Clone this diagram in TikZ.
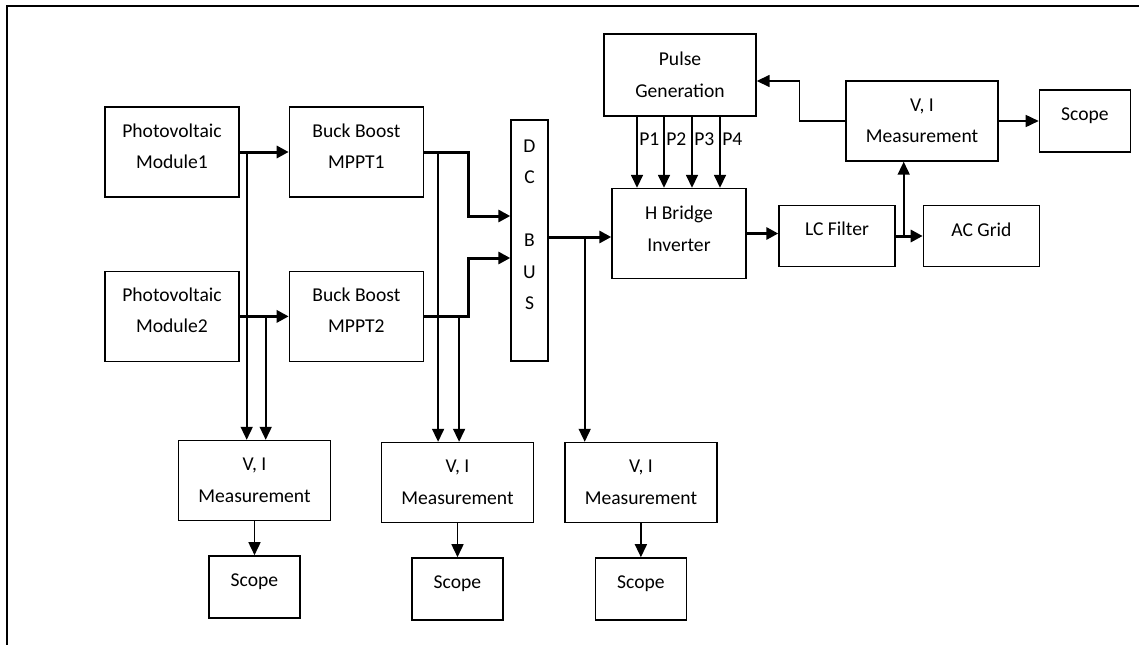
\documentclass[tikz,border=0pt]{standalone}
\usepackage{fontspec}
\setmainfont{Carlito}
\usetikzlibrary{arrows.meta,positioning}

\begin{document}
\begin{tikzpicture}[x=1pt,y=-1pt,
    node distance=34pt,
    blk/.style={rectangle,draw,line width=1.4pt,inner sep=2pt,align=center,
                font=\fontsize{19.6}{31.5}\selectfont},
    lift/.style={text depth=12pt},
    big/.style={minimum width=134pt,minimum height=90pt,lift},
    meas/.style={minimum width=152pt,minimum height=80pt},
    scope/.style={minimum width=91pt,minimum height=62pt,text depth=14pt},
    pw/.style={-{Triangle[length=12pt,width=12pt]},line width=3pt},
    sig/.style={-{Triangle[length=13pt,width=12pt]},line width=1.6pt},
    tag/.style={anchor=west,inner sep=1.5pt,font=\fontsize{19.6}{24}\selectfont}]
    \useasboundingbox (0,0) rectangle (1139,645);
    \draw[line width=2pt] (1139,6) -- (7,6) -- (7,645);
    % sources and converters
    \node[blk,big](pv1) at (172,152) {Photovoltaic\\Module1};
    \node[blk,big,right=49pt of pv1](bb1){Buck Boost\\MPPT1};
    \node[blk,big,below=73pt of pv1](pv2){Photovoltaic\\Module2};
    \node[blk,big,right=49pt of pv2](bb2){Buck Boost\\MPPT2};
    \node[blk,minimum width=37pt,minimum height=241pt](bus) at (529.5,240.5) {D\\C\\\mbox{}\\B\\U\\S\\\mbox{}};
    \node[blk,big,text depth=10pt](hb) at (679,233.5) {H Bridge\\Inverter};
    \node[blk,minimum width=152pt,minimum height=82pt](pg) at (680,75) {Pulse\\Generation};
    \node[blk,minimum width=116pt,minimum height=61pt,text depth=15pt](lc) at (837,236) {LC Filter};
    \node[blk,minimum width=116pt,minimum height=61pt,lift,right=27pt of lc](grid){AC Grid};
    \node[blk,meas](m4) at (922,121) {V, I\\Measurement};
    \node[blk,scope,right=40pt of m4](sc4){Scope};
    % measurements
    \node[blk,meas](m1) at (254.5,480.5) {V, I\\Measurement};
    \node[blk,scope,below=of m1](sc1){Scope};
    \node[blk,meas](m2) at (457.5,482.5) {V, I\\Measurement};
    \node[blk,scope,below=of m2](sc2){Scope};
    \node[blk,meas,right=30pt of m2](m3){V, I\\Measurement};
    \node[blk,scope,below=of m3](sc3){Scope};
    % power path
    \draw[pw](pv1)--(bb1);\draw[pw](pv2)--(bb2);
    \draw[pw](bb1.east)--++(44,0)|-([yshift=24.5pt]bus.west);
    \draw[pw](bb2.east)--++(44,0)|-([yshift=-17.5pt]bus.west);
    \draw[pw]([yshift=3.5pt]bus.east)--([yshift=-3.5pt]hb.west);
    \draw[pw](hb.east)--(hb.east -| lc.west);
    \draw[pw](lc)--(grid);
    % gate pulses
    \foreach \o/\p in {-43/P1,-16/P2,12/P3,40/P4}{
      \coordinate(g) at ([xshift=\o pt]pg.south);
      \draw[sig](g)--(g |- hb.north) node[tag,pos=0.32]{\p};
    }
    % sensing
    \coordinate(tg) at ([xshift=8pt]lc.east);
    \draw[sig](tg)--(tg |- m4.south);
    \draw[sig](m4.west)--++(-46,0)|-([yshift=-6pt]pg.east);
    \draw[sig](m4)--(sc4);
    \coordinate(t1) at ([xshift=7pt]pv1.east);
    \coordinate(t2) at ([xshift=26pt]pv2.east);
    \coordinate(t3) at ([xshift=14pt]bb1.east);
    \coordinate(t4) at ([xshift=35pt]bb2.east);
    \coordinate(t5) at ([xshift=36pt,yshift=3.5pt]bus.east);
    \draw[sig](t1)--(t1 |- m1.north);\draw[sig](t2)--(t2 |- m1.north);
    \draw[sig](t3)--(t3 |- m2.north);\draw[sig](t4)--(t4 |- m2.north);
    \draw[sig](t5)--(t5 |- m3.north);
    \draw[sig](m1)--(sc1);\draw[sig](m2)--(sc2);\draw[sig](m3)--(sc3);
  \end{tikzpicture}
\end{document}
